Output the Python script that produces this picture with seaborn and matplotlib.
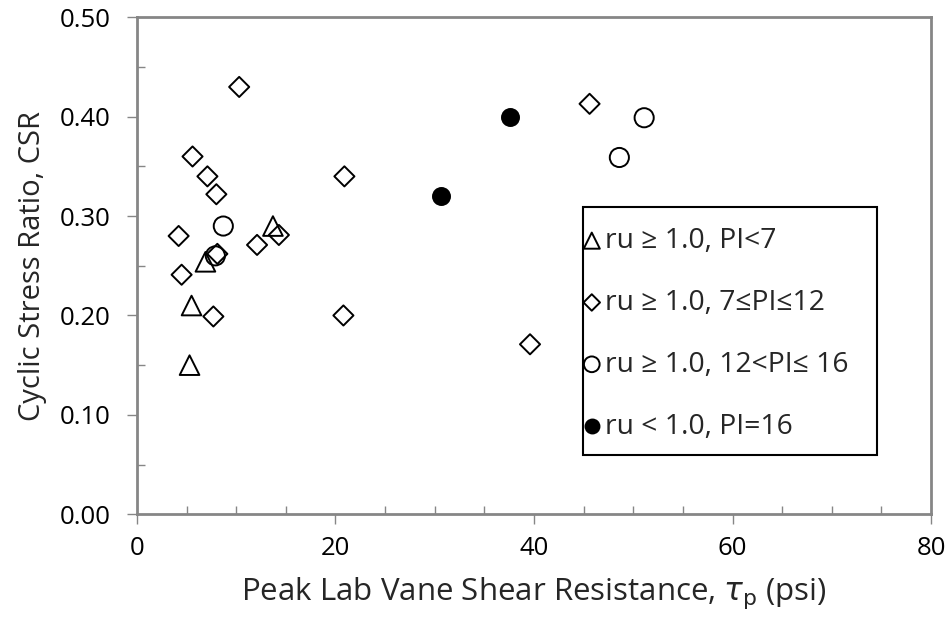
import matplotlib
matplotlib.use("Agg")
import matplotlib.pyplot as plt
import seaborn as sns
import pandas as pd
from matplotlib.patches import Rectangle
from matplotlib.ticker import MultipleLocator, FormatStrFormatter

# data
tri_x = [5.3, 5.5, 6.9, 13.7]
tri_y = [0.150, 0.210, 0.254, 0.290]

dia_x = [10.3, 5.6, 7.1, 8.0, 4.2, 4.5, 7.7, 8.1, 12.1, 14.3, 20.9, 20.8, 39.6, 45.6]
dia_y = [0.430, 0.360, 0.340, 0.322, 0.280, 0.241, 0.199, 0.262, 0.271, 0.281, 0.340, 0.200, 0.171, 0.413]

circ_x = [8.7, 7.9, 48.6, 51.1]
circ_y = [0.290, 0.260, 0.359, 0.399]

fill_x = [30.6, 37.6]
fill_y = [0.320, 0.400]

labels = ["ru \u2265 1.0, PI<7",
          "ru \u2265 1.0, 7\u2264PI\u226412",
          "ru \u2265 1.0, 12<PI\u2264 16",
          "ru < 1.0, PI=16"]

sns.set_style("white")
plt.rcParams['font.family'] = ['Open Sans', 'DejaVu Sans']
plt.rcParams['mathtext.fontset'] = 'dejavusans'

fig = plt.figure(figsize=(9.51, 6.21), dpi=100)
ax = fig.add_axes([0.144, 0.172, 0.835, 0.800])

groups = [
    (tri_x, tri_y, "^", 200, "none"),
    (dia_x, dia_y, "D", 105, "none"),
    (circ_x, circ_y, "o", 190, "none"),
    (fill_x, fill_y, "o", 150, "black"),
]
for (gx, gy, mk, sz, fc), lab in zip(groups, labels):
    df = pd.DataFrame({"x": gx, "y": gy})
    sns.scatterplot(data=df, x="x", y="y", marker=mk, s=sz, facecolor=fc,
                    edgecolor="black", linewidth=1.4, label=lab, ax=ax, zorder=3)

ax.set_xlim(0, 80)
ax.set_ylim(0, 0.5)
ax.xaxis.set_major_locator(MultipleLocator(20))
ax.xaxis.set_minor_locator(MultipleLocator(5))
ax.yaxis.set_major_locator(MultipleLocator(0.1))
ax.yaxis.set_minor_locator(MultipleLocator(0.05))
ax.yaxis.set_major_formatter(FormatStrFormatter('%.2f'))

gray = "#868686"
for sp in ax.spines.values():
    sp.set_visible(True)
    sp.set_color(gray)
    sp.set_linewidth(2)
ax.tick_params(which="major", direction="out", length=7, width=1, color=gray,
               labelsize=18.5, labelcolor="black", pad=9)
ax.tick_params(axis="y", which="major", pad=12)
ax.tick_params(which="minor", direction="in", length=6, width=1, color=gray)
ax.tick_params(axis="x", which="both", bottom=True)
ax.tick_params(axis="y", which="both", left=True)

ax.set_xlabel(r"Peak Lab Vane Shear Resistance, $\tau_\mathrm{p}$ (psi)", fontsize=22.5, labelpad=10)
ax.set_ylabel("Cyclic Stress Ratio, CSR", fontsize=21, labelpad=9)

# legend frame drawn separately so the padding can match the original
ax.add_patch(Rectangle((0.562, 0.119), 0.370, 0.499, transform=ax.transAxes,
                       facecolor="white", edgecolor="black", linewidth=1.5, zorder=4))
leg = ax.legend(loc="upper left", bbox_to_anchor=(0.563, 0.578),
                frameon=False, fontsize=20.3,
                handletextpad=0.2, handlelength=0.55, labelspacing=1.2,
                borderpad=0.0, borderaxespad=0.0, markerscale=0.82)
leg.set_zorder(5)

fig.savefig("out.png", dpi=100)
